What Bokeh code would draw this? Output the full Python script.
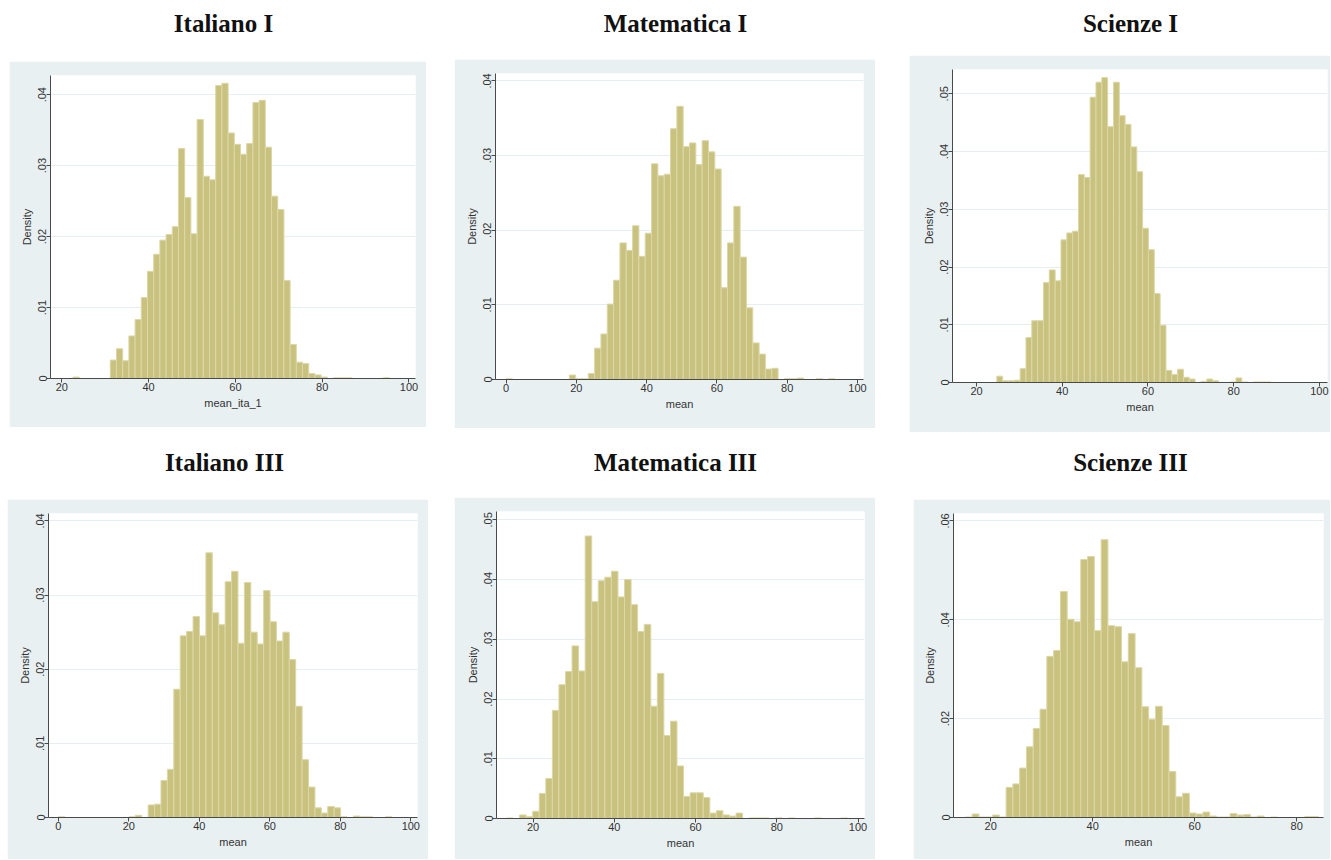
import numpy as np
from bokeh.plotting import figure
from bokeh.layouts import row, column
from bokeh.models import Range1d, FixedTicker, Spacer, CustomJSTickFormatter
from bokeh.core.properties import value
from bokeh.embed import file_html
from bokeh.resources import INLINE

# ---------------- data ----------------
titles = ["Italiano I", "Matematica I", "Scienze I",
          "Italiano III", "Matematica III", "Scienze III"]
x_labels = ["mean_ita_1", "mean", "mean", "mean", "mean", "mean"]

# histogram bins: first bin start, bin width, density of each bin
ita1_start, ita1_width = 22.6, 1.429
ita1_density = [0.0002, 0, 0, 0, 0, 0,
                0.0026, 0.0042, 0.0025, 0.0060, 0.0083, 0.0114, 0.0151, 0.0175, 0.0195, 0.0203,
                0.0214, 0.0324, 0.0255, 0.0204, 0.0365, 0.0285, 0.0280, 0.0413, 0.0416, 0.0346,
                0.0330, 0.0316, 0.0331, 0.0389, 0.0392, 0.0326, 0.0257, 0.0238, 0.0138, 0.0048,
                0.0023, 0.0021, 0.0007, 0.0005, 0.0002,
                0, 0.0001, 0.0001, 0.0001, 0, 0, 0, 0, 0, 0.0001]

mat1_start, mat1_width = 0.0, 1.8
mat1_density = [0.0001, 0, 0, 0, 0, 0, 0, 0, 0, 0, 0.0006, 0.0001, 0.0001, 0.0008,
                0.0042, 0.0061, 0.0101, 0.0133, 0.0183, 0.0173, 0.0206, 0.0165, 0.0196, 0.0289,
                0.0273, 0.0275, 0.0336, 0.0366, 0.0312, 0.0317, 0.0288, 0.0320, 0.0305, 0.0282,
                0.0123, 0.0183, 0.0232, 0.0164, 0.0096, 0.0049, 0.0034, 0.0014, 0.0015,
                0, 0.0001, 0.0001, 0.0002, 0, 0, 0.0001, 0, 0.0001]

sci1_start, sci1_width = 24.74, 1.361
sci1_density = [0.0011, 0.0003, 0.0003, 0.0004, 0.0024, 0.0078, 0.0107, 0.0107, 0.0173, 0.0195,
                0.0176, 0.0247, 0.0259, 0.0262, 0.0360, 0.0355, 0.0494, 0.0520, 0.0528, 0.0443,
                0.0520, 0.0462, 0.0447, 0.0408, 0.0365, 0.0267, 0.0230, 0.0154, 0.0099, 0.0021,
                0.0014, 0.0023, 0.0009, 0.0006, 0, 0.0002, 0.0006, 0.0003, 0, 0,
                0.0001, 0.0008, 0.0001, 0, 0.0001, 0.0001, 0.0001]

ita3_start, ita3_width = 0.0, 1.82
ita3_density = [0.0001, 0, 0, 0, 0, 0, 0, 0, 0, 0, 0, 0.0001, 0.0003, 0,
                0.0017, 0.0018, 0.0050, 0.0065, 0.0173, 0.0245, 0.0251, 0.0271, 0.0245, 0.0357,
                0.0276, 0.0260, 0.0318, 0.0332, 0.0235, 0.0317, 0.0250, 0.0234, 0.0306, 0.0264,
                0.0238, 0.0250, 0.0213, 0.0150, 0.0078, 0.0041, 0.0013, 0.0006, 0.0015, 0.0013,
                0.0001, 0, 0.0002, 0.0001, 0.0001, 0, 0, 0.0001]

mat3_start, mat3_width = 13.45, 1.615
mat3_density = [0.0001, 0, 0.0006, 0.0003, 0.0012, 0.0042, 0.0067,
                0.0181, 0.0224, 0.0246, 0.0289, 0.0247, 0.0473, 0.0363, 0.0398, 0.0404, 0.0414,
                0.0371, 0.0400, 0.0358, 0.0313, 0.0325, 0.0188, 0.0243, 0.0139, 0.0163, 0.0088,
                0.0037, 0.0043, 0.0043, 0.0035, 0.0009, 0.0013, 0.0006, 0.0004, 0.0009,
                0, 0.0001, 0.0001, 0.0001, 0, 0.0001, 0, 0.0001, 0, 0, 0, 0.0001, 0, 0, 0, 0.0001]

sci3_start, sci3_width = 15.03, 1.331
sci3_density = [0.0001, 0.0007, 0.0001, 0.0001, 0.0005, 0.0001,
                0.0061, 0.0068, 0.0100, 0.0143, 0.0180, 0.0219, 0.0326, 0.0338, 0.0457, 0.0401,
                0.0396, 0.0522, 0.0528, 0.0378, 0.0562, 0.0388, 0.0386, 0.0315, 0.0372, 0.0303,
                0.0224, 0.0199, 0.0225, 0.0186, 0.0093, 0.0042, 0.0049,
                0.0009, 0.0007, 0.0011, 0.0003, 0.0001, 0.0001, 0.0008, 0.0005, 0.0006, 0.0001,
                0.0003, 0, 0.0001, 0, 0, 0, 0, 0.0002, 0.0002]

x_ticks = [[20, 40, 60, 80, 100], [0, 20, 40, 60, 80, 100], [20, 40, 60, 80, 100],
           [0, 20, 40, 60, 80, 100], [20, 40, 60, 80, 100], [20, 40, 60, 80]]
y_ticks = [[0, 0.01, 0.02, 0.03, 0.04], [0, 0.01, 0.02, 0.03, 0.04],
           [0, 0.01, 0.02, 0.03, 0.04, 0.05], [0, 0.01, 0.02, 0.03, 0.04],
           [0, 0.01, 0.02, 0.03, 0.04, 0.05], [0, 0.02, 0.04, 0.06]]

hist = [(ita1_start, ita1_width, ita1_density), (mat1_start, mat1_width, mat1_density),
        (sci1_start, sci1_width, sci1_density), (ita3_start, ita3_width, ita3_density),
        (mat3_start, mat3_width, mat3_density), (sci3_start, sci3_width, sci3_density)]

# ---------------- styling / geometry ----------------
BG = "#e9f0f2"
BAR = "#c9c27f"
BAR_EDGE = "#dcd7a8"
AXIS = "#4a4a4a"
TXT = "#333333"
GRID = "#e5eef1"
TICK_FONT = "Liberation Sans"
TITLE_FONT = "Liberation Serif"

# x range, y top
ranges = [(17.4, 101.5, 0.0427), (-3.0, 101.7, 0.0410), (14.4, 101.9, 0.0542),
          (-2.8, 101.9, 0.0410), (11.0, 101.6, 0.0514), (12.7, 85.25, 0.0615)]
# canvas width, height, border left, right, top, bottom
geom = [(417, 366, 41, 11, 14, 49), (421, 369, 41, 12, 14, 49), (421, 377, 43, 3, 14, 50),
        (421, 360, 41, 11, 14, 42), (421, 362, 42, 11, 14, 41), (417, 360, 40, 7, 14, 42)]
# title figure height, title center x (canvas px), title y (px from bottom)
tgeom = [(61, 214, 38), (59, 221, 36), (55, 221, 32),
         (67, 217, 37), (65, 221, 35), (67, 217, 37)]

fmt = CustomJSTickFormatter(code="""
    if (tick == 0) { return "0"; }
    return tick.toFixed(2).replace(/^0/, "");
""")


def title_fig(text, w, h, bl, br, cx, by):
    # the frame is aligned with the panel frame below it, so give it the same side borders
    t = figure(width=w, height=h, x_range=Range1d(bl, w - br), y_range=Range1d(0, h),
               toolbar_location=None, output_backend="svg", title=None,
               min_border_left=bl, min_border_right=br, min_border_top=0, min_border_bottom=0,
               x_axis_location=None, y_axis_location=None)
    t.grid.visible = False
    t.outline_line_color = None
    t.background_fill_color = "white"
    t.border_fill_color = "white"
    t.text(x=[cx], y=[by], text=[text], text_font=value(TITLE_FONT),
           text_font_style="bold", text_font_size="25px", text_align="center",
           text_baseline="alphabetic", text_color="#111111")
    return t


def panel(i):
    start, width, dens = hist[i]
    dens = np.asarray(dens, dtype=float)
    left = start + width * np.arange(len(dens))
    keep = dens > 0
    w, h, bl, br, bt, bb = geom[i]
    x0, x1, ytop = ranges[i]
    p = figure(width=w, height=h, x_range=Range1d(x0, x1), y_range=Range1d(0, ytop),
               toolbar_location=None, output_backend="svg", title=None,
               min_border_left=bl, min_border_right=br, min_border_top=bt, min_border_bottom=bb)
    p.background_fill_color = "white"
    p.border_fill_color = BG
    p.outline_line_color = None
    p.quad(left=left[keep], right=left[keep] + width, bottom=0, top=dens[keep],
           fill_color=BAR, line_color=BAR_EDGE, line_width=1)
    p.xaxis.ticker = FixedTicker(ticks=x_ticks[i])
    p.yaxis.ticker = FixedTicker(ticks=y_ticks[i])
    p.yaxis.formatter = fmt
    p.yaxis.major_label_orientation = "vertical"
    p.xaxis.axis_label = x_labels[i]
    p.yaxis.axis_label = "Density"
    for ax in p.axis:
        ax.axis_line_color = AXIS
        ax.axis_line_width = 1
        ax.major_tick_line_color = AXIS
        ax.minor_tick_line_color = None
        ax.major_tick_out = 4
        ax.major_tick_in = 0
        ax.major_label_text_font = TICK_FONT
        ax.major_label_text_font_size = "11px"
        ax.major_label_text_color = TXT
        ax.major_label_standoff = 0
        ax.axis_label_text_font = TICK_FONT
        ax.axis_label_text_font_size = "11px"
        ax.axis_label_text_font_style = "normal"
        ax.axis_label_text_color = TXT
    p.xaxis.axis_label_standoff = 3
    p.yaxis.axis_label_standoff = 3
    p.xgrid.visible = False
    p.ygrid.grid_line_color = GRID
    p.ygrid.grid_line_width = 1
    return p


cells = []
for i in range(6):
    th, cx, by = tgeom[i]
    w, h, bl, br, bt, bb = geom[i]
    cells.append(column(title_fig(titles[i], w, th, bl, br, cx, by), panel(i)))

row1 = row(Spacer(width=9, height=432), column(cells[0], Spacer(width=417, height=5)),
           Spacer(width=28, height=432), column(cells[1], Spacer(width=421, height=4)),
           Spacer(width=34, height=432), cells[2])
row2 = row(Spacer(width=7, height=427), cells[3], Spacer(width=26, height=427), cells[4],
           Spacer(width=38, height=427), cells[5])
layout = column(row1, row2)

open("out.html", "w").write(file_html(layout, INLINE))
